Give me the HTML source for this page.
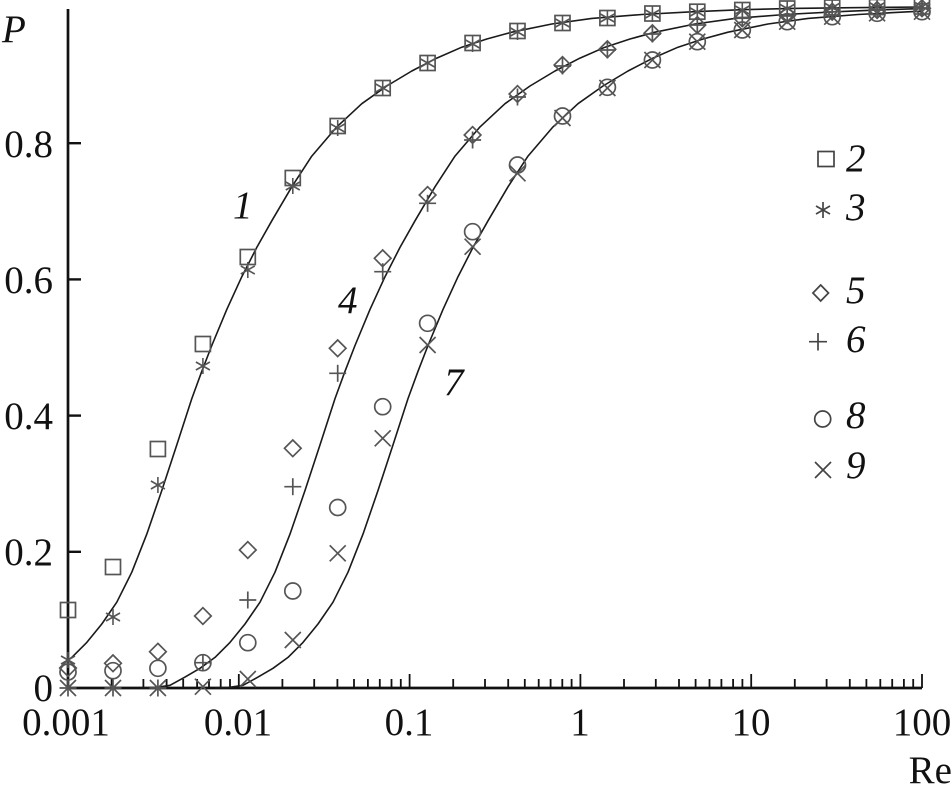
<!DOCTYPE html>
<html><head><meta charset="utf-8"><style>
html,body{margin:0;padding:0;background:#fff;}
svg{display:block;}
text{font-family:"Liberation Serif","Times New Roman",serif;fill:#111;}
</style></head><body>
<svg width="952" height="796" viewBox="0 0 952 796" xmlns="http://www.w3.org/2000/svg" font-family="'Liberation Serif', 'Times New Roman', serif">
<defs>
<g id="sq" fill="none" stroke="#555" stroke-width="1.7"><rect x="-7.5" y="-7.5" width="15" height="15"/></g>
<g id="st" fill="none" stroke="#555" stroke-width="1.6"><line x1="0" y1="-8" x2="0" y2="8"/><line x1="-7" y1="-4" x2="7" y2="4"/><line x1="-7" y1="4" x2="7" y2="-4"/></g>
<g id="dm" fill="none" stroke="#555" stroke-width="1.7"><polygon points="0,-8.3 8.3,0 0,8.3 -8.3,0"/></g>
<g id="pl" fill="none" stroke="#555" stroke-width="1.7"><line x1="0" y1="-8.5" x2="0" y2="8.5"/><line x1="-8.5" y1="0" x2="8.5" y2="0"/></g>
<g id="ci" fill="none" stroke="#555" stroke-width="1.7"><circle cx="0" cy="0" r="8"/></g>
<g id="xx" fill="none" stroke="#555" stroke-width="1.7"><line x1="-8" y1="-8" x2="8" y2="8"/><line x1="-8" y1="8" x2="8" y2="-8"/></g>
</defs>

<!-- axes -->
<g stroke="#111" fill="none">
<line x1="68" y1="9" x2="68" y2="689" stroke-width="2.7"/>
<line x1="67" y1="688" x2="922" y2="688" stroke-width="2.7"/>
<g stroke-width="2.4">
<line x1="68" y1="551.8" x2="81" y2="551.8"/>
<line x1="68" y1="415.6" x2="81" y2="415.6"/>
<line x1="68" y1="279.4" x2="81" y2="279.4"/>
<line x1="68" y1="143.2" x2="81" y2="143.2"/>
</g>
<g stroke-width="1.8">
<line x1="238.8" y1="688" x2="238.8" y2="674"/>
<line x1="409.6" y1="688" x2="409.6" y2="674"/>
<line x1="580.4" y1="688" x2="580.4" y2="674"/>
<line x1="751.2" y1="688" x2="751.2" y2="674"/>
<line x1="922" y1="688" x2="922" y2="674"/>
<line x1="111.6" y1="688" x2="111.6" y2="679"/><line x1="143.4" y1="688" x2="143.4" y2="679"/><line x1="166.6" y1="688" x2="166.6" y2="679"/><line x1="183.2" y1="688" x2="183.2" y2="679"/><line x1="197.1" y1="688" x2="197.1" y2="679"/><line x1="209" y1="688" x2="209" y2="679"/><line x1="220.7" y1="688" x2="220.7" y2="679"/><line x1="230" y1="688" x2="230" y2="679"/>
<line x1="282.4" y1="688" x2="282.4" y2="679"/><line x1="314.2" y1="688" x2="314.2" y2="679"/><line x1="337.4" y1="688" x2="337.4" y2="679"/><line x1="354" y1="688" x2="354" y2="679"/><line x1="367.9" y1="688" x2="367.9" y2="679"/><line x1="379.8" y1="688" x2="379.8" y2="679"/><line x1="391.5" y1="688" x2="391.5" y2="679"/><line x1="400.8" y1="688" x2="400.8" y2="679"/>
<line x1="453.2" y1="688" x2="453.2" y2="679"/><line x1="485" y1="688" x2="485" y2="679"/><line x1="508.2" y1="688" x2="508.2" y2="679"/><line x1="524.8" y1="688" x2="524.8" y2="679"/><line x1="538.7" y1="688" x2="538.7" y2="679"/><line x1="550.6" y1="688" x2="550.6" y2="679"/><line x1="562.3" y1="688" x2="562.3" y2="679"/><line x1="571.6" y1="688" x2="571.6" y2="679"/>
<line x1="624" y1="688" x2="624" y2="679"/><line x1="655.8" y1="688" x2="655.8" y2="679"/><line x1="679" y1="688" x2="679" y2="679"/><line x1="695.6" y1="688" x2="695.6" y2="679"/><line x1="709.5" y1="688" x2="709.5" y2="679"/><line x1="721.4" y1="688" x2="721.4" y2="679"/><line x1="733.1" y1="688" x2="733.1" y2="679"/><line x1="742.4" y1="688" x2="742.4" y2="679"/>
<line x1="794.8" y1="688" x2="794.8" y2="679"/><line x1="826.6" y1="688" x2="826.6" y2="679"/><line x1="849.8" y1="688" x2="849.8" y2="679"/><line x1="866.4" y1="688" x2="866.4" y2="679"/><line x1="880.3" y1="688" x2="880.3" y2="679"/><line x1="892.2" y1="688" x2="892.2" y2="679"/><line x1="903.9" y1="688" x2="903.9" y2="679"/><line x1="913.2" y1="688" x2="913.2" y2="679"/>
</g>
</g>

<!-- curves -->
<g fill="none" stroke="#1a1a1a" stroke-width="1.6" stroke-linejoin="round">
<polyline points="68,660.1 71.8,657.4 86.8,642.4 101.8,624 116.8,602.2 131.8,572.2 146.8,534.1 161.8,490.5 176.8,444.9 191.8,398.6 201.8,371.3 211.8,345.5 226.8,309.4 241.8,276.7 256.8,247.4 271.8,220.8 291.8,186.8 311.8,156.1 336.8,126.9 361.8,103.7 386.8,86 411.8,71 436.8,58.1 461.8,47.2 486.8,39 511.8,32.2 551.8,24 591.8,18.4 641.8,14.5 691.8,11.8 741.8,9.7 791.8,8.4 851.8,7.7 922,7"/>
<polyline points="140,688 155,687.5 170,685.3 185,677.1 200,668.3 215,657.4 230,642.4 245,624 260,602.2 275,572.2 290,534.1 305,490.5 320,444.9 335,398.6 345,371.3 355,345.5 370,309.4 385,276.7 400,247.4 415,220.8 435,186.8 455,156.1 480,126.9 505,103.7 530,86 555,71 580,58.1 605,47.2 630,39 655,32.2 695,24 735,18.4 785,14.5 835,11.8 885,9.7 922,8.6"/>
<polyline points="215,688 228,687.5 243,685.3 258,677.1 273,668.3 288,657.4 303,642.4 318,624 333,602.2 348,572.2 363,534.1 378,490.5 393,444.9 408,398.6 418,371.3 428,345.5 443,309.4 458,276.7 473,247.4 488,220.8 508,186.8 528,156.1 553,126.9 578,103.7 603,86 628,71 653,58.1 678,47.2 703,39 728,32.2 768,24 808,18.4 858,14.5 908,11.8 922,11.2"/>
</g>

<!-- series 2 squares -->
<use href="#sq" x="68" y="610"/><use href="#sq" x="113" y="567"/><use href="#sq" x="157.9" y="449"/><use href="#sq" x="202.9" y="344"/><use href="#sq" x="247.8" y="257"/><use href="#sq" x="292.8" y="178"/><use href="#sq" x="337.7" y="126"/><use href="#sq" x="382.7" y="88"/><use href="#sq" x="427.6" y="63"/><use href="#sq" x="472.6" y="43"/><use href="#sq" x="517.5" y="31"/><use href="#sq" x="562.5" y="23"/><use href="#sq" x="607.4" y="18"/><use href="#sq" x="652.4" y="13.5"/><use href="#sq" x="697.3" y="11.7"/><use href="#sq" x="742.3" y="10"/><use href="#sq" x="787.2" y="8.5"/><use href="#sq" x="832.2" y="7.5"/><use href="#sq" x="877.1" y="7"/><use href="#sq" x="922" y="6.5"/>
<!-- series 3 stars -->
<use href="#st" x="68" y="660"/><use href="#st" x="113" y="617"/><use href="#st" x="157.9" y="485"/><use href="#st" x="202.9" y="366"/><use href="#st" x="247.8" y="270"/><use href="#st" x="292.8" y="186"/><use href="#st" x="337.7" y="128"/><use href="#st" x="382.7" y="88"/><use href="#st" x="427.6" y="63"/><use href="#st" x="472.6" y="44"/><use href="#st" x="517.5" y="32"/><use href="#st" x="562.5" y="23"/><use href="#st" x="607.4" y="18"/><use href="#st" x="652.4" y="14"/><use href="#st" x="697.3" y="12"/><use href="#st" x="742.3" y="10"/><use href="#st" x="787.2" y="8.5"/><use href="#st" x="832.2" y="7.5"/><use href="#st" x="877.1" y="7"/><use href="#st" x="922" y="6.5"/>
<!-- series 5 diamonds -->
<use href="#dm" x="68" y="668"/><use href="#dm" x="113" y="663.3"/><use href="#dm" x="157.9" y="651.7"/><use href="#dm" x="202.9" y="616"/><use href="#dm" x="247.8" y="550"/><use href="#dm" x="292.8" y="448.3"/><use href="#dm" x="337.7" y="348.3"/><use href="#dm" x="382.7" y="258.3"/><use href="#dm" x="427.6" y="195"/><use href="#dm" x="472.6" y="135"/><use href="#dm" x="517.5" y="94"/><use href="#dm" x="562.5" y="65"/><use href="#dm" x="607.4" y="49.3"/><use href="#dm" x="652.4" y="33.3"/><use href="#dm" x="697.3" y="25"/><use href="#dm" x="742.3" y="18.3"/><use href="#dm" x="787.2" y="15"/><use href="#dm" x="832.2" y="11.7"/><use href="#dm" x="877.1" y="10"/><use href="#dm" x="922" y="8.3"/>
<!-- series 6 plus -->
<use href="#pl" x="68" y="688"/><use href="#pl" x="113" y="688"/><use href="#pl" x="157.9" y="688"/><use href="#pl" x="202.9" y="662.7"/><use href="#pl" x="247.8" y="600"/><use href="#pl" x="292.8" y="486.7"/><use href="#pl" x="337.7" y="373.3"/><use href="#pl" x="382.7" y="271.7"/><use href="#pl" x="427.6" y="203.3"/><use href="#pl" x="472.6" y="140"/><use href="#pl" x="517.5" y="97"/><use href="#pl" x="562.5" y="66"/><use href="#pl" x="607.4" y="50"/><use href="#pl" x="652.4" y="34"/><use href="#pl" x="697.3" y="25"/><use href="#pl" x="742.3" y="18.3"/><use href="#pl" x="787.2" y="15"/><use href="#pl" x="832.2" y="11.7"/><use href="#pl" x="877.1" y="10"/><use href="#pl" x="922" y="8.3"/>
<!-- series 8 circles -->
<use href="#ci" x="68" y="672"/><use href="#ci" x="113" y="670.7"/><use href="#ci" x="157.9" y="668.3"/><use href="#ci" x="202.9" y="662.7"/><use href="#ci" x="247.8" y="642.7"/><use href="#ci" x="292.8" y="591"/><use href="#ci" x="337.7" y="507.5"/><use href="#ci" x="382.7" y="406.7"/><use href="#ci" x="427.6" y="323.3"/><use href="#ci" x="472.6" y="231.7"/><use href="#ci" x="517.5" y="165"/><use href="#ci" x="562.5" y="116"/><use href="#ci" x="607.4" y="87.3"/><use href="#ci" x="652.4" y="60"/><use href="#ci" x="697.3" y="41.7"/><use href="#ci" x="742.3" y="30"/><use href="#ci" x="787.2" y="21.7"/><use href="#ci" x="832.2" y="16.7"/><use href="#ci" x="877.1" y="13.3"/><use href="#ci" x="922" y="11.7"/>
<!-- series 9 crosses -->
<use href="#xx" x="68" y="688"/><use href="#xx" x="113" y="688"/><use href="#xx" x="157.9" y="688"/><use href="#xx" x="202.9" y="686.7"/><use href="#xx" x="247.8" y="679"/><use href="#xx" x="292.8" y="640"/><use href="#xx" x="337.7" y="553.3"/><use href="#xx" x="382.7" y="438.3"/><use href="#xx" x="427.6" y="345"/><use href="#xx" x="472.6" y="246.7"/><use href="#xx" x="517.5" y="173.3"/><use href="#xx" x="562.5" y="118"/><use href="#xx" x="607.4" y="88"/><use href="#xx" x="652.4" y="60"/><use href="#xx" x="697.3" y="41.7"/><use href="#xx" x="742.3" y="30"/><use href="#xx" x="787.2" y="21.7"/><use href="#xx" x="832.2" y="16.7"/><use href="#xx" x="877.1" y="13.3"/><use href="#xx" x="922" y="11.7"/>

<!-- y labels -->
<g font-size="39" text-anchor="end">
<text x="53" y="157">0.8</text>
<text x="53" y="293">0.6</text>
<text x="53" y="429">0.4</text>
<text x="53" y="565">0.2</text>
<text x="53" y="701">0</text>
</g>
<text x="2" y="42" font-size="39" font-style="italic">P</text>

<!-- x labels -->
<g font-size="39" text-anchor="middle">
<text x="66" y="735">0.001</text>
<text x="238" y="735">0.01</text>
<text x="409" y="735">0.1</text>
<text x="580" y="735">1</text>
<text x="751" y="735">10</text>
<text x="922" y="735">100</text>
</g>
<text x="952" y="783" font-size="39" text-anchor="end">Re</text>

<!-- curve labels -->
<g font-size="39" font-style="italic">
<text x="233" y="218">1</text>
<text x="338" y="313">4</text>
<text x="444" y="395">7</text>
</g>

<!-- legend -->
<g fill="none" stroke="#444" stroke-width="1.7">
<rect x="818" y="151.5" width="16" height="15"/>
<line x1="823" y1="202" x2="823" y2="218"/><line x1="816" y1="206" x2="830" y2="214"/><line x1="816" y1="214" x2="830" y2="206"/>
<polygon points="820.7,285 828.5,293 820.7,301 812.9,293"/>
<line x1="818" y1="333" x2="818" y2="350.5"/><line x1="809" y1="341.7" x2="827" y2="341.7"/>
<circle cx="822.7" cy="419" r="8"/>
<line x1="815" y1="462" x2="831" y2="478"/><line x1="815" y1="478" x2="831" y2="462"/>
</g>
<g font-size="39" font-style="italic">
<text x="846" y="171">2</text>
<text x="846" y="220">3</text>
<text x="846" y="303">5</text>
<text x="846" y="352">6</text>
<text x="846" y="428">8</text>
<text x="846" y="478">9</text>
</g>
</svg>
</body></html>
